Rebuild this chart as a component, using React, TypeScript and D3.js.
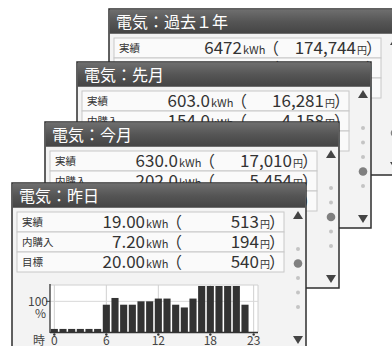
import React from "react";
import * as d3 from "d3";

const panelTitles = ["電気：過去１年", "電気：先月", "電気：今月", "電気：昨日"];
const rowLabels = ["実績", "内購入", "目標"];
const kwhValues = [
  ["6472", "2136", "7300"],
  ["603.0", "154.0", "620.0"],
  ["630.0", "202.0", "620.0"],
  ["19.00", "7.20", "20.00"],
];
const yenValues = [
  ["174,744", "57,672", "197,100"],
  ["16,281", "4,158", "16,740"],
  ["17,010", "5,454", "16,740"],
  ["513", "194", "540"],
];
const activeDot = [4, 3, 2, 1];
const hours = d3.range(24);
const hourlyPercent = [10, 10, 10, 10, 10, 10, 89, 111, 89, 89, 100, 100, 109, 109, 89, 80, 109, 150, 150, 150, 150, 150, 89, 0];
const hourTicks = [0, 6, 12, 18, 23];
const yTicks = [100];

const FONT = "'Noto Sans CJK JP', 'Noto Sans', sans-serif";

const PW = 294;
const PH = 166;
const panelPos = [
  { x: 109, y: 9 },
  { x: 77, y: 62 },
  { x: 45, y: 122 },
  { x: 12, y: 183 },
];

function Chart() {
  const x = d3.scaleBand<number>().domain(hours).range([38, 246]).paddingInner(0.18).paddingOuter(0.09);
  const y = d3.scaleLinear().domain([0, 150]).range([149, 103]);
  const cx = (h: number) => (x(h) as number) + x.bandwidth() / 2;
  return (
    <g>
      <rect x={38} y={102} width={208} height={47} fill="#ffffff" />
      {hourTicks.map((h) => (
        <line key={"g" + h} x1={cx(h)} x2={cx(h)} y1={102} y2={149} stroke="#d0d0d0" strokeWidth={1} />
      ))}
      <line x1={38} x2={246} y1={102} y2={102} stroke="#d0d0d0" />
      <line x1={246} x2={246} y1={102} y2={149} stroke="#d0d0d0" />
      {yTicks.map((t) => (
        <line key={"yg" + t} x1={38} x2={246} y1={y(t)} y2={y(t)} stroke="#d8d8d8" />
      ))}
      {hours.map((h, i) =>
        hourlyPercent[i] > 0 ? (
          <rect key={h} x={x(h)} y={y(hourlyPercent[i])} width={x.bandwidth()} height={149 - y(hourlyPercent[i])} fill="#333333" />
        ) : null
      )}
      <line x1={38} x2={38} y1={101} y2={150} stroke="#333" strokeWidth={1.3} />
      <line x1={38} x2={246} y1={149.5} y2={149.5} stroke="#333" strokeWidth={1.3} />
      {yTicks.map((t) => (
        <g key={"yt" + t}>
          <line x1={34} x2={38} y1={y(t)} y2={y(t)} stroke="#333" />
          <text x={36} y={y(t) + 5} textAnchor="end" fontSize={12} fill="#444" fontFamily={FONT}>{t}</text>
          <text x={34} y={y(t) + 17} textAnchor="end" fontSize={12} fill="#444" fontFamily={FONT}>%</text>
        </g>
      ))}
      {hourTicks.map((h) => (
        <g key={"t" + h}>
          <circle cx={cx(h)} cy={151.5} r={1.2} fill="#333" />
          <text x={cx(h)} y={162} textAnchor="middle" fontSize={12} fill="#444" fontFamily={FONT}>{h}</text>
        </g>
      ))}
      <text x={33} y={162} textAnchor="end" fontSize={12} fill="#444" fontFamily={FONT}>時</text>
    </g>
  );
}

function Panel({ idx }: { idx: number }) {
  const { x, y } = panelPos[idx];
  const dotsY = [66, 80.5, 95, 109.5, 124];
  const sbx = PW - 8;
  return (
    <g transform={`translate(${x},${y})`}>
      <rect x={0} y={0} width={PW} height={PH} fill="#f3f3f3" stroke="#2e2e2e" strokeWidth={1.5} />
      <rect x={0.75} y={0.75} width={PW - 1.5} height={24} fill="url(#titleGrad)" />
      <text x={7} y={19} fill="#ffffff" fontSize={16} fontFamily={FONT}>{panelTitles[idx]}</text>
      {rowLabels.map((lab, i) => {
        const ry = 29 + i * 20;
        return (
          <g key={lab}>
            <rect x={5} y={ry} width={267} height={20} fill="#fafafa" stroke="#c8c8c8" strokeWidth={1} />
            <text x={10} y={ry + 14} fontSize={10.5} fill="#333" fontFamily={FONT}>{lab}</text>
            <text x={133} y={ry + 16} textAnchor="end" fontSize={17} fill="#333" fontFamily={FONT}>{kwhValues[idx][i]}</text>
            <text x={134} y={ry + 16} fontSize={11} fill="#333" fontFamily={FONT}>kWh</text>
            <text x={154} y={ry + 16} fontSize={16} fill="#333" fontFamily={FONT}>（</text>
            <text x={247} y={ry + 16} textAnchor="end" fontSize={17} fill="#333" fontFamily={FONT}>{yenValues[idx][i]}</text>
            <text x={248} y={ry + 16} fontSize={10} fill="#333" fontFamily={FONT}>円</text>
            <text x={257} y={ry + 16} fontSize={16} fill="#333" fontFamily={FONT}>）</text>
          </g>
        );
      })}
      {idx === 3 && <Chart />}
      <path d={`M${sbx - 5},36 L${sbx + 5},36 L${sbx},28 Z`} fill="#444" />
      <path d={`M${sbx - 5},153 L${sbx + 5},153 L${sbx},161 Z`} fill="#444" />
      {dotsY.map((dy, i) =>
        i === activeDot[idx] ? (
          <circle key={i} cx={sbx} cy={dy} r={4.3} fill="#808080" />
        ) : (
          <circle key={i} cx={sbx} cy={dy} r={2} fill="#c4c4c4" />
        )
      )}
    </g>
  );
}

export default function App() {
  return (
    <svg width={392} height={346} style={{ position: "absolute", left: 0, top: 0, background: "#ffffff" }}>
      <defs>
        <linearGradient id="titleGrad" x1="0" x2="0" y1="0" y2="1">
          <stop offset="0" stopColor="#6e6e6e" />
          <stop offset="0.5" stopColor="#555555" />
          <stop offset="1" stopColor="#444444" />
        </linearGradient>
      </defs>
      <rect x={0} y={0} width={392} height={346} fill="#ffffff" />
      {[0, 1, 2, 3].map((i) => (
        <Panel key={i} idx={i} />
      ))}
    </svg>
  );
}
